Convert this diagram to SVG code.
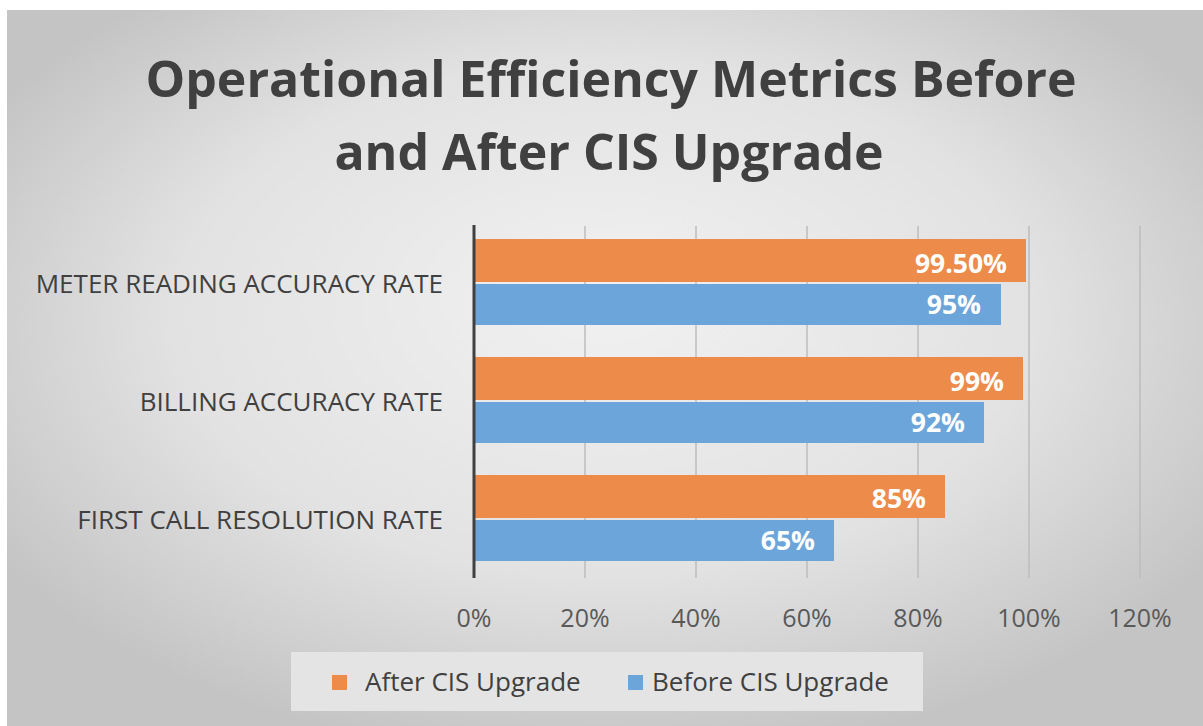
<svg xmlns="http://www.w3.org/2000/svg" width="1203" height="726" viewBox="0 0 1203 726">
<defs>
<radialGradient id="bg" cx="50%" cy="45%" r="60%" fx="50%" fy="40%">
<stop offset="0" stop-color="#f1f1f1"/>
<stop offset="0.6" stop-color="#e2e2e2"/>
<stop offset="1" stop-color="#c4c4c4"/>
</radialGradient>
<style>
.cat{font-family:"Open Sans","Liberation Sans",sans-serif;font-size:26px;fill:#404040;text-anchor:end}
.tick{font-family:"Open Sans","Liberation Sans",sans-serif;font-size:25px;fill:#595959;text-anchor:middle}
.val{font-family:"Open Sans","Liberation Sans",sans-serif;font-size:26.5px;font-weight:bold;fill:#ffffff;text-anchor:end}
.title{font-family:"Open Sans","Liberation Sans",sans-serif;font-size:50px;font-weight:bold;fill:#404040;text-anchor:middle}
.leg{font-family:"Open Sans","Liberation Sans",sans-serif;font-size:26px;fill:#404040}
.grid{stroke:#bdbdbd;stroke-width:1.5}
.after{fill:#ED8B4A}
.before{fill:#6CA5DA}
</style>
</defs>
<rect x="0" y="0" width="1203" height="726" fill="#ffffff"/>
<rect x="7" y="10" width="1196" height="716" fill="url(#bg)"/>
<g id="title">
<text class="title" x="611" y="97">Operational Efficiency Metrics Before</text>
<text class="title" x="609" y="170">and After CIS Upgrade</text>
</g>
<g id="gridlines">
<line class="grid" x1="585" y1="226" x2="585" y2="578"/>
<line class="grid" x1="696" y1="226" x2="696" y2="578"/>
<line class="grid" x1="807" y1="226" x2="807" y2="578"/>
<line class="grid" x1="918" y1="226" x2="918" y2="578"/>
<line class="grid" x1="1029" y1="226" x2="1029" y2="578"/>
<line class="grid" x1="1140" y1="226" x2="1140" y2="578"/>
</g>
<g id="bars">
<g id="meter">
<rect class="after" x="474" y="239" width="552" height="43"/>
<rect class="before" x="474" y="284" width="527" height="41"/>
<text class="val" x="1007" y="273">99.50%</text>
<text class="val" x="981" y="314">95%</text>
</g>
<g id="billing">
<rect class="after" x="474" y="357" width="549" height="43"/>
<rect class="before" x="474" y="402" width="510" height="41"/>
<text class="val" x="1004" y="391">99%</text>
<text class="val" x="965" y="432">92%</text>
</g>
<g id="firstcall">
<rect class="after" x="474" y="475" width="471" height="43"/>
<rect class="before" x="474" y="520" width="360" height="41"/>
<text class="val" x="926" y="508">85%</text>
<text class="val" x="815" y="550">65%</text>
</g>
</g>
<g id="axis">
<line x1="474" y1="225" x2="474" y2="578" stroke="#404040" stroke-width="3"/>
</g>
<g id="categories">
<text class="cat" x="443" y="293">METER READING ACCURACY RATE</text>
<text class="cat" x="443" y="411">BILLING ACCURACY RATE</text>
<text class="cat" x="443" y="529">FIRST CALL RESOLUTION RATE</text>
</g>
<g id="ticks">
<text class="tick" x="474" y="627">0%</text>
<text class="tick" x="585" y="627">20%</text>
<text class="tick" x="696" y="627">40%</text>
<text class="tick" x="807" y="627">60%</text>
<text class="tick" x="918" y="627">80%</text>
<text class="tick" x="1029" y="627">100%</text>
<text class="tick" x="1140" y="627">120%</text>
</g>
<g id="legend">
<rect x="291" y="652" width="632" height="59" fill="#e4e4e4"/>
<rect class="after" x="332" y="675" width="15" height="15"/>
<text class="leg" x="365" y="691">After CIS Upgrade</text>
<rect class="before" x="628" y="675" width="15" height="15"/>
<text class="leg" x="652" y="691">Before CIS Upgrade</text>
</g>
</svg>
